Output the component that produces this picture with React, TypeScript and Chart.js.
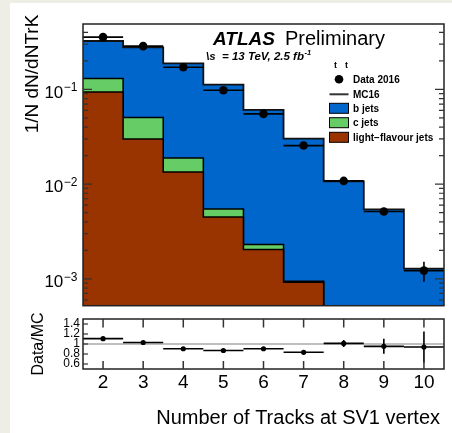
import { useEffect, useRef } from 'react';
import { Chart, registerables } from 'chart.js';

Chart.register(...registerables);

const FONT = '"Liberation Sans", Arial, Helvetica, sans-serif';

// SV1 track-multiplicity bins (bin centres)
const trackBins = [2, 3, 4, 5, 6, 7, 8, 9, 10];

// Simulated flavour composition, normalised per bin
const bJets = [0.194, 0.2264, 0.1692, 0.1065, 0.0584, 0.0293, 0.0104, 0.0053, 0.00125];
const cJets = [0.036, 0.0207, 0.0054, 0.00099, 0.00026, 0.00002, 0.00004, 0.00002, 0.00001];
const lightJets = [0.094, 0.0299, 0.0134, 0.00448, 0.00204, 0.00092, 0.00024, 0.00008, 0.00002];

// Data 2016
const dataValues = [0.356, 0.286, 0.171, 0.098, 0.0551, 0.0255, 0.0108, 0.00514, 0.00122];
const dataErrors = [0.003, 0.0025, 0.0015, 0.001, 0.0007, 0.0004, 0.0003, 0.0002, 0.00029];

// Data / MC
const ratioValues = [1.107, 1.03, 0.905, 0.87, 0.905, 0.834, 1.012, 0.953, 0.94];
const ratioErrors = [0.012, 0.012, 0.012, 0.014, 0.016, 0.02, 0.07, 0.15, 0.31];
const ratioReference = 1;

// Axis ticks and labels
const xTickValues = [2, 3, 4, 5, 6, 7, 8, 9, 10];
const yMajorTicks = [1e-3, 1e-2, 1e-1];
const yMajorExponents = ['\u22123', '\u22122', '\u22121'];
const ratioTicks = [0.6, 0.8, 1, 1.2, 1.4];
const ratioTickLabels = ['0.6', '0.8', '1', '1.2', '1.4'];

const legendLabels = ['Data 2016', 'MC16', 'b jets', 'c jets', 'light\u2212flavour jets'];

const X_MIN = 1.5;
const X_MAX = 10.5;
const Y_MIN = 5.2e-4;
const Y_MAX = 0.49;
const R_MIN = 0.5;
const R_MAX = 1.5;

const B_COLOR = '#0066cc';
const C_COLOR = '#66cc66';
const L_COLOR = '#993300';
const FRAME = '#222';

const stack = (...parts: number[][]) => parts[0].map((_, i) => parts.reduce((s, p) => s + p[i], 0));
const lightStack = lightJets;
const cStack = stack(lightJets, cJets);
const mcTotal = stack(lightJets, cJets, bJets);

// step-histogram outline: one point per lower bin edge plus the final upper edge
const stepPoints = (values: number[]) => [
  ...values.map((v, i) => ({ x: trackBins[i] - 0.5, y: v })),
  { x: trackBins[trackBins.length - 1] + 0.5, y: values[values.length - 1] },
];

// minor log ticks 1..9 x 10^k within range
const logTicks: number[] = [];
for (let e = -4; e <= 0; e++) {
  for (let m = 1; m <= 9; m++) {
    const v = m * Math.pow(10, e);
    if (v >= Y_MIN && v <= Y_MAX) logTicks.push(v);
  }
}

function drawErrorBars(chart: any, values: number[], errors: number[]) {
  const { ctx, chartArea: a, scales } = chart;
  const xs = scales.x;
  const ys = scales.y;
  ctx.save();
  ctx.beginPath();
  ctx.rect(a.left, a.top, a.right - a.left, a.bottom - a.top);
  ctx.clip();
  ctx.strokeStyle = '#000';
  ctx.lineWidth = 1.6;
  values.forEach((v, i) => {
    const x0 = xs.getPixelForValue(trackBins[i] - 0.5);
    const x1 = xs.getPixelForValue(trackBins[i] + 0.5);
    const xc = xs.getPixelForValue(trackBins[i]);
    const y = ys.getPixelForValue(v);
    const yHi = ys.getPixelForValue(v + errors[i]);
    const yLo = ys.getPixelForValue(Math.max(v - errors[i], 1e-9));
    ctx.beginPath();
    ctx.moveTo(x0, y);
    ctx.lineTo(x1, y);
    ctx.moveTo(xc, yHi);
    ctx.lineTo(xc, yLo);
    ctx.stroke();
  });
  ctx.restore();
}

function rotatedText(ctx: CanvasRenderingContext2D, text: string, x: number, y: number, font: string) {
  ctx.save();
  ctx.translate(x, y);
  ctx.rotate(-Math.PI / 2);
  ctx.font = font;
  ctx.textAlign = 'center';
  ctx.textBaseline = 'middle';
  ctx.fillStyle = '#000';
  ctx.fillText(text, 0, 0);
  ctx.restore();
}

const mainDecor = {
  id: 'mainDecor',
  afterDatasetsDraw(chart: any) {
    drawErrorBars(chart, dataValues, dataErrors);
  },
  afterDraw(chart: any) {
    const { ctx, chartArea: a, scales } = chart;
    const ys = scales.y;
    ctx.save();
    // frame
    ctx.strokeStyle = FRAME;
    ctx.lineWidth = 1.5;
    ctx.strokeRect(a.left, a.top, a.right - a.left, a.bottom - a.top);
    // inward log ticks on both sides
    ctx.lineWidth = 1.2;
    ctx.strokeStyle = '#333';
    ys.ticks.forEach((t: any) => {
      const y = ys.getPixelForValue(t.value);
      const major = Math.abs(Math.log10(t.value) - Math.round(Math.log10(t.value))) < 1e-6;
      const len = major ? 9 : 5;
      ctx.beginPath();
      ctx.moveTo(a.left, y);
      ctx.lineTo(a.left + len, y);
      ctx.moveTo(a.right, y);
      ctx.lineTo(a.right - len, y);
      ctx.stroke();
    });
    // decade labels 10^k
    ctx.fillStyle = '#000';
    ctx.textAlign = 'right';
    ctx.textBaseline = 'alphabetic';
    yMajorTicks.forEach((v, i) => {
      const y = ys.getPixelForValue(v);
      ctx.font = `12px ${FONT}`;
      const ew = ctx.measureText(yMajorExponents[i]).width;
      const xr = a.left - 5.5;
      ctx.fillText(yMajorExponents[i], xr, y + 2);
      ctx.font = `17px ${FONT}`;
      ctx.fillText('10', xr - ew - 0.5, y + 8.3);
    });
    ctx.restore();

    rotatedText(ctx, '1/N dN/dNTrK', 32.5, 74, `19px ${FONT}`);

    ctx.save();
    ctx.fillStyle = '#000';
    ctx.textAlign = 'left';
    ctx.textBaseline = 'alphabetic';
    ctx.font = `italic bold 19px ${FONT}`;
    ctx.fillText('ATLAS', 213, 45);
    ctx.font = `20px ${FONT}`;
    ctx.fillText('Preliminary', 285, 45);
    ctx.font = `italic bold 11.5px ${FONT}`;
    const energy = '\\s  = 13 TeV, 2.5 fb';
    ctx.fillText(energy, 206, 60);
    const ew = ctx.measureText(energy).width;
    ctx.font = `italic bold 7.5px ${FONT}`;
    ctx.fillText('-1', 206 + ew + 0.5, 55);
    ctx.font = `bold 9px ${FONT}`;
    ctx.fillText('t', 334, 68);
    ctx.fillText('t', 345, 68);

    // legend
    const rows = [79.3, 94.3, 108.3, 122.7, 137.3];
    const bx = 329.5;
    const bw = 19;
    ctx.font = `bold 10px ${FONT}`;
    ctx.textBaseline = 'middle';
    legendLabels.forEach((label, i) => {
      const y = rows[i];
      if (i === 0) {
        ctx.beginPath();
        ctx.arc(bx + bw / 2, y, 4.3, 0, Math.PI * 2);
        ctx.fillStyle = '#000';
        ctx.fill();
      } else if (i === 1) {
        ctx.beginPath();
        ctx.moveTo(bx, y);
        ctx.lineTo(bx + bw, y);
        ctx.strokeStyle = '#333';
        ctx.lineWidth = 2;
        ctx.stroke();
      } else {
        ctx.fillStyle = [B_COLOR, C_COLOR, L_COLOR][i - 2];
        ctx.fillRect(bx, y - 5, bw, 10);
        ctx.strokeStyle = '#000';
        ctx.lineWidth = 1;
        ctx.strokeRect(bx, y - 5, bw, 10);
      }
      ctx.fillStyle = '#000';
      ctx.fillText(label, 353, y + 0.5);
    });
    ctx.restore();
  },
};

const ratioDecor = {
  id: 'ratioDecor',
  afterDatasetsDraw(chart: any) {
    drawErrorBars(chart, ratioValues, ratioErrors);
  },
  afterDraw(chart: any) {
    const { ctx, chartArea: a, scales } = chart;
    const xs = scales.x;
    const ys = scales.y;
    ctx.save();
    ctx.strokeStyle = FRAME;
    ctx.lineWidth = 1.5;
    ctx.strokeRect(a.left, a.top, a.right - a.left, a.bottom - a.top);
    ctx.lineWidth = 1.5;
    ctx.strokeStyle = '#333';
    xTickValues.forEach((v) => {
      const x = xs.getPixelForValue(v);
      ctx.beginPath();
      ctx.moveTo(x, a.top);
      ctx.lineTo(x, a.top + 8.5);
      ctx.moveTo(x, a.bottom);
      ctx.lineTo(x, a.bottom - 8);
      ctx.stroke();
    });
    ctx.lineWidth = 1.2;
    ratioTicks.forEach((v) => {
      const y = ys.getPixelForValue(v);
      ctx.beginPath();
      ctx.moveTo(a.left, y);
      ctx.lineTo(a.left + 5, y);
      ctx.stroke();
    });
    ctx.restore();

    rotatedText(ctx, 'Data/MC', 39, (a.top + a.bottom) / 2, `16px ${FONT}`);

    ctx.save();
    ctx.fillStyle = '#000';
    ctx.font = `20px ${FONT}`;
    ctx.textAlign = 'right';
    ctx.textBaseline = 'middle';
    ctx.fillText('Number of Tracks at SV1 vertex', 440, 108);
    ctx.restore();
  },
};

export default function App() {
  const mainRef = useRef<HTMLCanvasElement>(null);
  const ratioRef = useRef<HTMLCanvasElement>(null);

  useEffect(() => {
    const histo = (values: number[], fillColor: string) => ({
      type: 'line' as const,
      data: stepPoints(values),
      stepped: true,
      fill: 'start',
      backgroundColor: fillColor,
      borderColor: '#000',
      borderWidth: 1.5,
      pointRadius: 0,
    });

    const main = new Chart(mainRef.current!, {
      type: 'line',
      data: {
        datasets: [
          {
            data: trackBins.map((x, i) => ({ x, y: dataValues[i] })),
            showLine: false,
            pointRadius: 4.3,
            pointBackgroundColor: '#000',
            pointBorderWidth: 0,
            borderColor: '#000',
          } as any,
          histo(lightStack, L_COLOR),
          histo(cStack, C_COLOR),
          { ...histo(mcTotal, B_COLOR), borderColor: '#111', borderWidth: 1.8 },
        ],
      },
      options: {
        responsive: false,
        maintainAspectRatio: false,
        devicePixelRatio: 1,
        animation: false,
        events: [],
        layout: { padding: { left: 0, right: 8, top: 24, bottom: 2 } },
        plugins: { legend: { display: false }, tooltip: { enabled: false } },
        scales: {
          x: { type: 'linear', min: X_MIN, max: X_MAX, display: false },
          y: {
            type: 'logarithmic',
            min: Y_MIN,
            max: Y_MAX,
            afterBuildTicks: (s: any) => {
              s.ticks = logTicks.map((value) => ({ value }));
            },
            afterFit: (s: any) => {
              s.width = 83;
            },
            ticks: { display: false, autoSkip: false },
            grid: { display: false, drawTicks: false },
            border: { display: false },
          },
        },
      } as any,
      plugins: [mainDecor],
    });

    const ratio = new Chart(ratioRef.current!, {
      type: 'line',
      data: {
        datasets: [
          {
            data: trackBins.map((x, i) => ({ x, y: ratioValues[i] })),
            showLine: false,
            pointRadius: 2.6,
            pointBackgroundColor: '#000',
            pointBorderWidth: 0,
            borderColor: '#000',
          } as any,
          {
            data: [
              { x: X_MIN, y: ratioReference },
              { x: X_MAX, y: ratioReference },
            ],
            borderColor: '#aaaaaa',
            borderWidth: 1.3,
            pointRadius: 0,
          },
        ],
      },
      options: {
        responsive: false,
        maintainAspectRatio: false,
        devicePixelRatio: 1,
        animation: false,
        events: [],
        layout: { padding: { left: 0, right: 8, top: 3, bottom: 0 } },
        plugins: { legend: { display: false }, tooltip: { enabled: false } },
        scales: {
          x: {
            type: 'linear',
            min: X_MIN,
            max: X_MAX,
            afterBuildTicks: (s: any) => {
              s.ticks = xTickValues.map((value) => ({ value }));
            },
            afterFit: (s: any) => {
              s.height = 64;
            },
            ticks: {
              autoSkip: false,
              maxRotation: 0,
              padding: 2,
              color: '#000',
              font: { family: FONT, size: 19 },
              callback: (v: any) => String(v),
            },
            grid: { display: false, drawTicks: false },
            border: { display: false },
          },
          y: {
            type: 'linear',
            min: R_MIN,
            max: R_MAX,
            afterBuildTicks: (s: any) => {
              s.ticks = ratioTicks.map((value) => ({ value }));
            },
            afterFit: (s: any) => {
              s.width = 83;
            },
            ticks: {
              autoSkip: false,
              padding: 3,
              color: '#000',
              font: { family: FONT, size: 12, lineHeight: 1 },
              callback: (_v: any, i: number) => ratioTickLabels[i],
            },
            grid: { display: false, drawTicks: false },
            border: { display: false },
          },
        },
      } as any,
      plugins: [ratioDecor],
    });

    return () => {
      main.destroy();
      ratio.destroy();
    };
  }, []);

  return (
    <div
      style={{
        position: 'fixed',
        left: 0,
        top: 0,
        width: 452,
        height: 433,
        background: '#eeeee6',
        overflow: 'hidden',
      }}
    >
      <div style={{ position: 'absolute', left: 10, top: 3, right: 0, bottom: 0, background: '#fff' }} />
      <canvas
        ref={mainRef}
        width={452}
        height={310}
        style={{ position: 'absolute', left: 0, top: 0, width: 452, height: 310 }}
      />
      <canvas
        ref={ratioRef}
        width={452}
        height={123}
        style={{ position: 'absolute', left: 0, top: 310, width: 452, height: 123 }}
      />
    </div>
  );
}
